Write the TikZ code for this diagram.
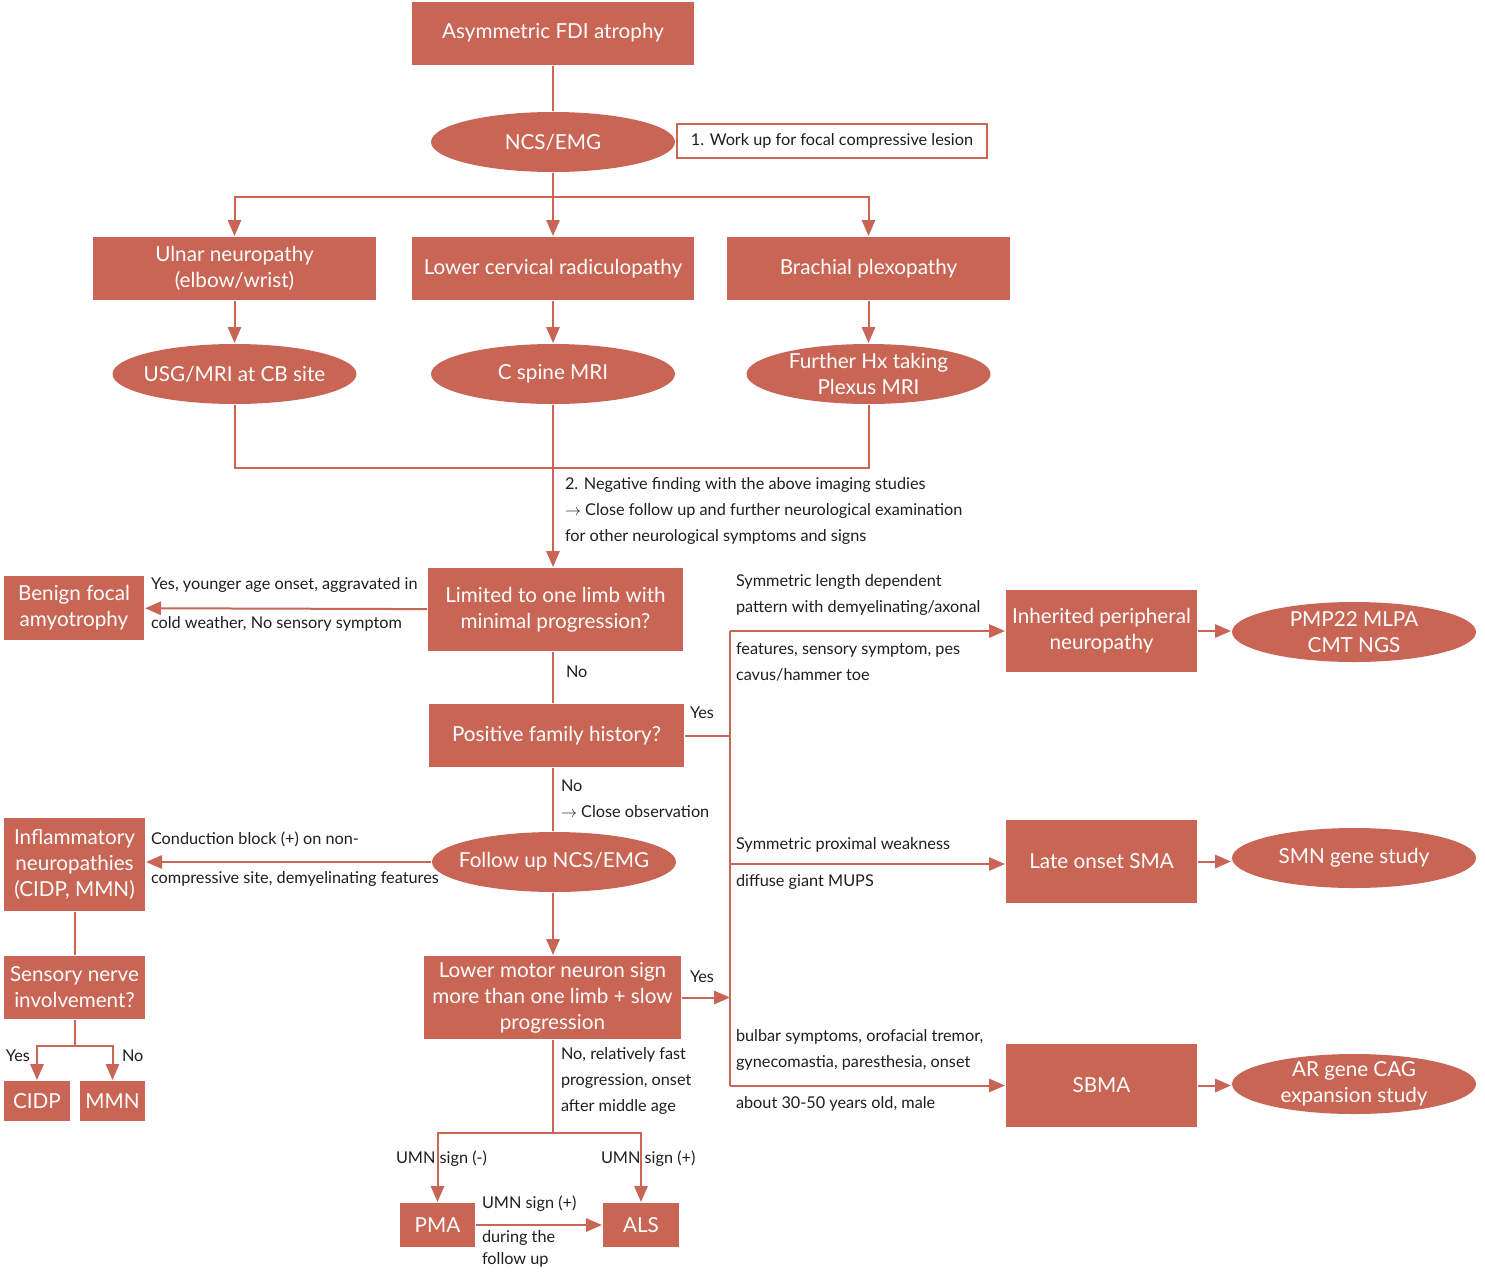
\documentclass[tikz,border=0pt]{standalone}
\usepackage{fontspec}
\setmainfont{Lato}
\usetikzlibrary{shapes.geometric,arrows.meta}

\definecolor{brick}{RGB}{201,101,84}
\definecolor{ink}{RGB}{30,30,30}

\tikzset{every picture/.style={line width=1.5pt}}
\tikzset{
  blk/.style={fill=brick, text=white, align=center, inner sep=2pt, font=\fontsize{15.5}{19.5}\selectfont},
  oval/.style={blk, ellipse, inner xsep=-18pt, inner ysep=-6pt, minimum width=183pt, minimum height=45pt},
  lbl/.style={text=ink, align=left, anchor=west, inner sep=0pt, font=\fontsize{12.2}{19.5}\selectfont},
  con/.style={draw=brick},
  arr/.style={draw=brick, -{Triangle[length=12pt,width=10pt]}},
}

\begin{document}
\begin{tikzpicture}[x=0.75pt,y=0.75pt,yscale=-1,xscale=1]
\useasboundingbox (0,0) rectangle (1485,1275);

%Shape: Rectangle [top]
\node[blk, minimum width=211.5pt, minimum height=47.25pt] (fdi) at (553,33) {Asymmetric FDI atrophy};
%Shape: Ellipse
\node[oval] (ncs) at (553,142) {NCS/EMG};
%Shape: Note box
\node[draw=brick, fill=white, text=ink, minimum width=232.5pt, minimum height=25.5pt, font=\fontsize{12.2}{14}\selectfont] (workup) at (832,141) {1. Work up for focal compressive lesion};

%Shape: Rectangle [row 1]
\node[blk, minimum width=212pt, minimum height=47.25pt] (ulnar) at (234.5,268.5) {Ulnar neuropathy\\(elbow/wrist)};
\node[blk, minimum width=212pt, minimum height=47.25pt] (lowcerv) at (553,268.5) {Lower cervical radiculopathy};
\node[blk, minimum width=212pt, minimum height=47.25pt] (brachial) at (868.5,268.5) {Brachial plexopathy};
%Shape: Ellipse [row 2]
\node[oval] (usg) at (234.5,374) {USG/MRI at CB site};
\node[oval] (cspine) at (553,374) {C spine MRI};
\node[oval] (plexus) at (868.5,374) {Further Hx taking\\Plexus MRI};

%Shape: Rectangle [middle column]
\node[blk, minimum width=191.25pt, minimum height=62.25pt] (limited) at (555.5,609.5) {Limited to one limb with\\minimal progression?};
\node[blk, minimum width=191.25pt, minimum height=47.25pt] (famhx) at (556.5,735.5) {Positive family history?};
\node[oval] (followup) at (554,862) {Follow up NCS/EMG};
\node[blk, minimum width=192.75pt, minimum height=62.25pt] (lmn) at (552.5,997.5) {Lower motor neuron sign\\more than one limb + slow\\progression};
\node[blk, minimum width=56.25pt, minimum height=33pt] (pma) at (437.5,1225) {PMA};
\node[blk, minimum width=57pt, minimum height=33pt] (als) at (641,1225) {ALS};

%Shape: Rectangle [left column]
\node[blk, minimum width=105pt, minimum height=48pt] (benign) at (74,608) {Benign focal\\amyotrophy};
\node[blk, minimum width=105.75pt, minimum height=69.75pt] (inflam) at (74.5,864.5) {Inflammatory\\neuropathies\\(CIDP, MMN)};
\node[blk, minimum width=105.75pt, minimum height=47.25pt] (sensory) at (74.5,987.5) {Sensory nerve\\involvement?};
\node[blk, minimum width=49.5pt, minimum height=30pt] (cidp) at (37,1101) {CIDP};
\node[blk, minimum width=48.75pt, minimum height=30pt] (mmn) at (112.5,1101) {MMN};

%Shape: Rectangle [right column]
\node[blk, minimum width=143.25pt, minimum height=61.5pt] (inherited) at (1101.5,631) {Inherited peripheral\\neuropathy};
\node[blk, minimum width=143.25pt, minimum height=62.25pt] (latesma) at (1101.5,861.5) {Late onset SMA};
\node[blk, minimum width=143.25pt, minimum height=62.25pt] (sbma) at (1101.5,1085.5) {SBMA};
\node[oval] (pmp) at (1354,632) {PMP22 MLPA\\CMT NGS};
\node[oval] (smn) at (1354,858) {SMN gene study};
\node[oval] (argene) at (1354,1084) {AR gene CAG\\expansion study};

%Points on the lines
\coordinate (split1) at (553,197);
\coordinate (join1) at (553,468);
\coordinate (split2) at (74.5,1046);
\coordinate (split3) at (553,1133);
\coordinate (busA) at (730,631);
\coordinate (busB) at (730,735.5);
\coordinate (busC) at (730,864);
\coordinate (busD) at (730,997.5);
\coordinate (busE) at (730,1085.5);

%Lines
\draw[con] (fdi) -- (ncs);
\draw[con] (ncs) -- (split1);
\draw[arr] (split1) -| (ulnar);
\draw[arr] (split1) -- (lowcerv);
\draw[arr] (split1) -| (brachial);
\draw[arr] (ulnar) -- (usg);
\draw[arr] (lowcerv) -- (cspine);
\draw[arr] (plexus.north |- brachial.south) -- (plexus);
\draw[con] (usg) |- (join1) -| (plexus);
\draw[arr] (cspine.south) -- (cspine.south |- limited.north);
\draw[arr] (limited) -- (benign);
\draw[con] (cspine |- limited.south) -- (cspine |- famhx.north);
\draw[con] (cspine |- famhx.south) -- (cspine |- followup.north);
\draw[arr] (followup.west) -- (followup.west -| inflam.east);
\draw[arr] (cspine |- followup.south) -- (cspine |- lmn.north);
\draw[con] (inflam) -- (sensory);
\draw[con] (sensory) -- (split2);
\draw[arr] (split2) -| (cidp);
\draw[arr] (split2) -| (mmn);
\draw[con] (cspine |- lmn.south) -- (split3);
\draw[arr] (split3) -| (pma);
\draw[arr] (split3) -| (als);
\draw[arr] (pma) -- (als);
\draw[con] (famhx) -- (busB);
\draw[con] (busA) -- (busE);
\draw[arr] (lmn) -- (busD);
\draw[arr] (busA) -- (inherited);
\draw[arr] (busC) -- (busC -| latesma.west);
\draw[arr] (busE) -- (sbma);
\draw[arr] (inherited) -- (inherited.east -| pmp.west);
\draw[arr] (latesma) -- (latesma.east -| smn.west);
\draw[arr] (sbma) -- (sbma.east -| argene.west);

% Text Node
\node[lbl] (negtxt) at (564,511) {2. Negative finding with the above imaging studies\\$\rightarrow$ Close follow up and further neurological examination\\for other neurological symptoms and signs};
% Text Node
\node[lbl, font=\fontsize{12.2}{29.25}\selectfont] (benigntxt) at (150,604.5) {Yes, younger age onset, aggravated in\\cold weather, No sensory symptom};
% Text Node
\node[lbl] (limitedno) at (565,672) {No};
% Text Node
\node[lbl] (famyes) at (689,713) {Yes};
% Text Node
\node[lbl] (famno) at (560,799) {No\\$\rightarrow$ Close observation};
% Text Node
\node[lbl, font=\fontsize{12.2}{29.25}\selectfont] (inflamtxt) at (150,859.5) {Conduction block (+) on non-\\compressive site, demyelinating features};
% Text Node
\node[lbl] (sensyes) at (5,1056) {Yes};
% Text Node
\node[lbl] (sensno) at (121,1056) {No};
% Text Node
\node[lbl] (lmnyes) at (689,977) {Yes};
% Text Node
\node[lbl] (lmnno) at (560,1081) {No, relatively fast\\progression, onset\\after middle age};
% Text Node
\node[lbl] (umnneg) at (395,1159) {UMN sign (-)};
% Text Node
\node[lbl] (umnpos) at (600,1159) {UMN sign (+)};
% Text Node
\node[lbl] (pmaals) at (481,1204) {UMN sign (+)};
% Text Node
\node[lbl, font=\fontsize{12.2}{16.5}\selectfont] (pmaalsb) at (481,1249) {during the\\follow up};
% Text Node
\node[lbl] (cmta) at (735,595) {Symmetric length dependent\\pattern with demyelinating/axonal};
% Text Node
\node[lbl] (cmtb) at (735,662) {features, sensory symptom, pes\\cavus/hammer toe};
% Text Node
\node[lbl] (smaa) at (735,845) {Symmetric proximal weakness};
% Text Node
\node[lbl] (smab) at (735,882) {diffuse giant MUPS};
% Text Node
\node[lbl] (sbmaa) at (735,1050) {bulbar symptoms, orofacial tremor,\\gynecomastia, paresthesia, onset};
% Text Node
\node[lbl] (sbmab) at (735,1104) {about 30-50 years old, male};

\end{tikzpicture}
\end{document}
